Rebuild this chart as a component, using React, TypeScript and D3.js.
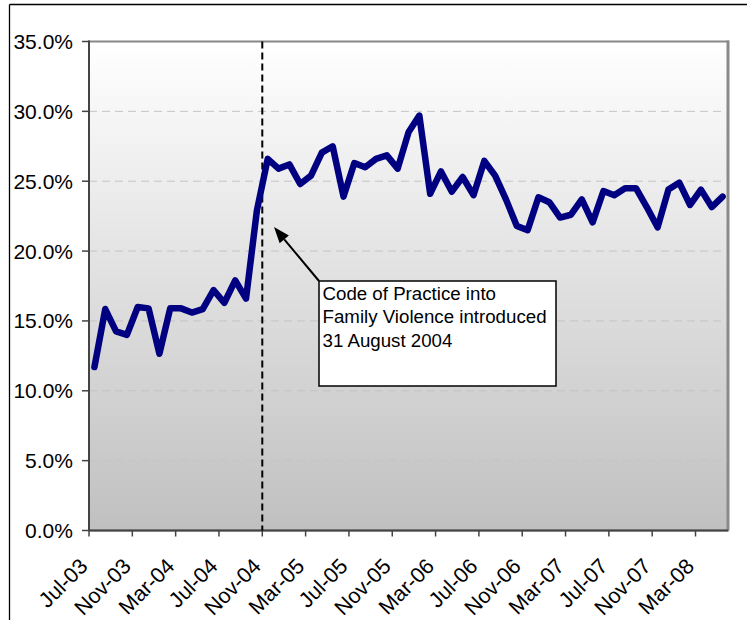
import React from "react";
import * as d3 from "d3";

const months = [
  "Jul-03","Aug-03","Sep-03","Oct-03","Nov-03","Dec-03",
  "Jan-04","Feb-04","Mar-04","Apr-04","May-04","Jun-04","Jul-04","Aug-04","Sep-04","Oct-04","Nov-04","Dec-04",
  "Jan-05","Feb-05","Mar-05","Apr-05","May-05","Jun-05","Jul-05","Aug-05","Sep-05","Oct-05","Nov-05","Dec-05",
  "Jan-06","Feb-06","Mar-06","Apr-06","May-06","Jun-06","Jul-06","Aug-06","Sep-06","Oct-06","Nov-06","Dec-06",
  "Jan-07","Feb-07","Mar-07","Apr-07","May-07","Jun-07","Jul-07","Aug-07","Sep-07","Oct-07","Nov-07","Dec-07",
  "Jan-08","Feb-08","Mar-08","Apr-08","May-08",
];

const values = [
  11.7, 15.85, 14.25, 14.0, 16.0, 15.9, 12.65, 15.9, 15.9, 15.6, 15.85, 17.2, 16.3, 17.9, 16.6,
  22.9, 26.6, 25.9, 26.2, 24.8, 25.4, 27.05, 27.5, 23.9, 26.3, 26.0, 26.6, 26.85, 25.9, 28.5,
  29.7, 24.1, 25.7, 24.25, 25.3, 24.0, 26.45, 25.4, 23.7, 21.8, 21.5, 23.85, 23.5, 22.4, 22.6,
  23.7, 22.05, 24.3, 24.0, 24.5, 24.5, 23.15, 21.7, 24.4, 24.9, 23.3, 24.4, 23.15, 23.9,
];

const tickLabels = [
  "Jul-03","Nov-03","Mar-04","Jul-04","Nov-04","Mar-05","Jul-05","Nov-05",
  "Mar-06","Jul-06","Nov-06","Mar-07","Jul-07","Nov-07","Mar-08",
];

const yTicks = [0, 5, 10, 15, 20, 25, 30, 35];
const eventMonth = "Nov-04";
const annotationLines = ["Code of Practice into", "Family Violence introduced", "31 August 2004"];

const W = 747;
const H = 620;
const L = 89, R = 728, T = 41.5, B = 530.5;
const FONT = "'Liberation Sans', Arial, sans-serif";

export default function App() {
  const x = d3.scaleBand<string>().domain(months).range([L, R]).padding(0);
  const y = d3.scaleLinear().domain([0, 35]).range([B, T]);
  const bw = x.bandwidth();

  const line = d3
    .line<number>()
    .x((_, i) => (x(months[i]) as number) + bw / 2)
    .y((d) => y(d));

  const tickMonths = months.filter((_, i) => i % 4 === 0);
  const ex = x(eventMonth) as number;

  const boxX = 319, boxY = 281, boxW = 237, boxH = 105;
  const tipX = 274, tipY = 227;
  const ang = Math.atan2(tipY - boxY, tipX - boxX);
  const hl = 16, hw = 6;
  const bx = tipX - hl * Math.cos(ang), by = tipY - hl * Math.sin(ang);
  const px = -Math.sin(ang), py = Math.cos(ang);
  const head = `M${tipX},${tipY} L${bx + hw * px},${by + hw * py} L${bx - hw * px},${by - hw * py} Z`;

  return (
    <div style={{ position: "absolute", left: 0, top: 0 }}>
      <svg width={W} height={H} style={{ display: "block", background: "#fff" }}>
        <defs>
          <linearGradient id="bg" x1="0" y1="0" x2="0" y2="1">
            <stop offset="0" stopColor="#ffffff" />
            <stop offset="1" stopColor="#c0c0c0" />
          </linearGradient>
        </defs>

        {/* outer border */}
        <line x1={9.5} y1={4.5} x2={W} y2={4.5} stroke="#000" strokeWidth={1.3} />
        <line x1={9.5} y1={4.5} x2={9.5} y2={H} stroke="#000" strokeWidth={1.3} />

        {/* plot area */}
        <rect x={L} y={T} width={R - L} height={B - T} fill="url(#bg)" stroke="#888" strokeWidth={2} />
        <line x1={R} x2={R} y1={T - 1} y2={B} stroke="#8a8a8a" strokeWidth={3} />

        {/* gridlines */}
        {yTicks.filter((t) => t > 0 && t < 35).map((t) => (
          <line key={t} x1={L} x2={R - 1.5} y1={y(t)} y2={y(t)} stroke="#c4c4c4" strokeWidth={1} strokeDasharray="8,5" />
        ))}

        {/* axes */}
        <line x1={L} x2={L} y1={T - 1} y2={B} stroke="#444" strokeWidth={2} />
        <line x1={L} x2={R} y1={B} y2={B} stroke="#444" strokeWidth={2} />

        {yTicks.map((t) => (
          <g key={t}>
            <line x1={L - 7} x2={L} y1={y(t)} y2={y(t)} stroke="#444" strokeWidth={1.5} />
            <text x={73} y={y(t)} dy="0.36em" textAnchor="end" fontFamily={FONT} fontSize={21} fill="#000">
              {t.toFixed(1)}%
            </text>
          </g>
        ))}

        {tickMonths.map((m, i) => {
          const tx = x(m) as number;
          return (
            <g key={m}>
              <line x1={tx} x2={tx} y1={B} y2={B + 6} stroke="#444" strokeWidth={1.5} />
              <text
                transform={`translate(${tx},${B + 37}) rotate(-45)`}
                textAnchor="end"
                fontFamily={FONT}
                fontSize={21.5}
                fill="#000"
              >
                {tickLabels[i]}
              </text>
            </g>
          );
        })}

        {/* event line */}
        <line x1={ex} x2={ex} y1={T} y2={B} stroke="#000" strokeWidth={2} strokeDasharray="7,4" />

        {/* data line */}
        <path d={line(values) || ""} fill="none" stroke="#000080" strokeWidth={6.5} strokeLinejoin="round" strokeLinecap="round" />

        {/* annotation */}
        <line x1={boxX} y1={boxY} x2={bx} y2={by} stroke="#000" strokeWidth={2} />
        <path d={head} fill="#000" />
        <rect x={boxX} y={boxY} width={boxW} height={boxH} fill="#fff" stroke="#000" strokeWidth={1.5} />
        {annotationLines.map((s, i) => (
          <text key={i} x={boxX + 3.5} y={boxY + 19 + i * 23.3} fontFamily={FONT} fontSize={18.7} fill="#000">
            {s}
          </text>
        ))}
      </svg>
    </div>
  );
}
